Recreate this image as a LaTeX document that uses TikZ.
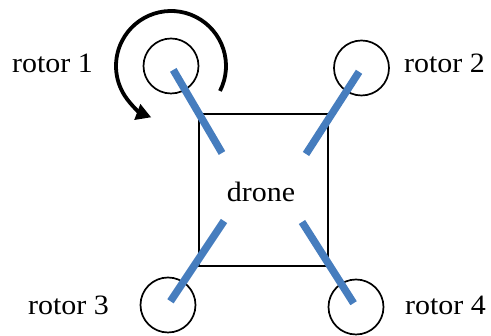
\documentclass[tikz,border=0pt]{standalone}
\usepackage{fontspec}
\setmainfont{Liberation Serif}[FakeStretch=1.07]
\usetikzlibrary{arrows.meta}

\definecolor{armblue}{RGB}{70,125,190}

\begin{document}
\begin{tikzpicture}[
  x=1pt, y=1pt,
  rotor/.style={circle, draw, line width=1.7pt, minimum size=55pt, inner sep=0pt},
  body/.style={rectangle, draw, line width=1.8pt, minimum width=129pt, minimum height=152pt},
  lbl/.style={inner sep=0pt, font=\fontsize{28}{32}\selectfont},
  arm/.style={armblue, line width=7.5pt, shorten <=4.5pt},
  spin/.style={-{Triangle[length=15pt,width=16pt]}, line width=3.8pt}
]
\useasboundingbox (0,0) rectangle (491,336);

\node[body] (drone) at (263.5,146) {};
\node[lbl, anchor=base] at (261,134) {drone};

\node[rotor] (r1) at (171,270) {};
\node[rotor] (r2) at (361.5,268) {};
\node[rotor] (r3) at (168,31) {};
\node[rotor] (r4) at (356,29) {};

\node[lbl, anchor=base west] (l1) at (12,263) {rotor 1};
\node[lbl, anchor=base west] (l2) at (404,263) {rotor 2};
\node[lbl, anchor=base west] (l3) at (28,21) {rotor 3};
\node[lbl, anchor=base west] (l4) at (405,21) {rotor 4};

% arm ends inside the body
\coordinate (e1) at (222,183);
\coordinate (e2) at (306,182);
\coordinate (e3) at (224,115);
\coordinate (e4) at (302,114);

\draw[arm] (r1.center) -- (e1);
\draw[arm] (r2.center) -- (e2);
\draw[arm] (r3.center) -- (e3);
\draw[arm] (r4.center) -- (e4);

% turning direction of rotor 1
\draw[spin] (r1.center) ++(-27:55) arc[start angle=-27, end angle=249, radius=55];
\end{tikzpicture}
\end{document}
